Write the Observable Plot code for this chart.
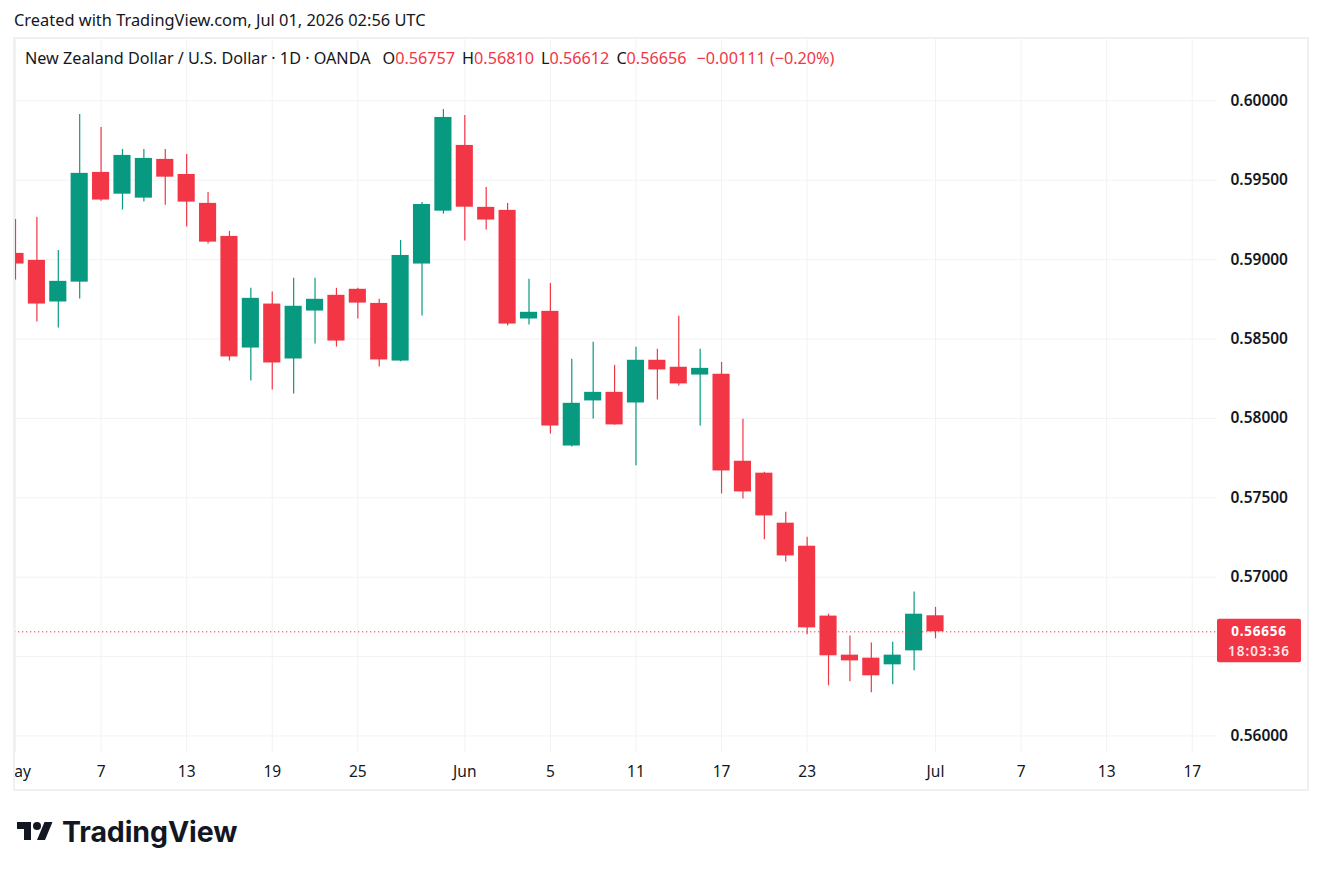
<!DOCTYPE html>
<html>
<head>
<meta charset="utf-8">
<script src="https://cdn.jsdelivr.net/npm/d3@7"></script>
<script src="https://cdn.jsdelivr.net/npm/@observablehq/plot@0.6"></script>
<style>
  html, body { margin: 0; padding: 0; background: #ffffff; }
  body { font-family: "Noto Sans", "Open Sans", sans-serif; color: #131722; }
  #page { position: relative; width: 1322px; height: 874px; overflow: hidden; }
  #created { position: absolute; left: 14px; top: 8px; font-size: 16.4px; white-space: nowrap; }
  #pane { position: absolute; left: 14px; top: 38px; width: 1294px; height: 752px; overflow: hidden; }
  #frame { position: absolute; left: 13px; top: 37px; width: 1296px; height: 754px; box-sizing: border-box;
           border: 2px solid #f0f0f0; pointer-events: none; }
  #legend { position: absolute; left: 25px; top: 47px; font-size: 16.2px; white-space: nowrap; }
  #legend .k { margin-left: 7px; }
  #legend .v { color: #f23645; }
  #brand { position: absolute; left: 17px; top: 814px; display: flex; align-items: center; }
  #brand .word { font-family: "Inter", "Noto Sans", sans-serif; font-weight: 700; font-size: 28.5px;
                 letter-spacing: -0.1px; margin-left: 9px; color: #131722; }
</style>
</head>
<body>
<div id="page">
  <div id="created">Created with TradingView.com, Jul 01, 2026 02:56 UTC</div>
  <div id="pane"></div>
  <div id="frame"></div>
  <div id="legend"></div>
  <div id="brand">
    <svg width="36" height="28" viewBox="0 0 36 28">
      <path d="M14 22H7V11H0V4h14v18z" fill="#131722"/>
      <circle cx="20" cy="8" r="4" fill="#131722"/>
      <path d="M28 22h-8l7.5-18h8L28 22z" fill="#131722"/>
    </svg>
    <span class="word">TradingView</span>
  </div>
</div>
<script>
// NZD/USD daily candles (OANDA), one entry per trading day
const dates = [
  "2026-05-01","2026-05-04","2026-05-05","2026-05-06","2026-05-07","2026-05-08",
  "2026-05-11","2026-05-12","2026-05-13","2026-05-14","2026-05-15",
  "2026-05-18","2026-05-19","2026-05-20","2026-05-21","2026-05-22",
  "2026-05-25","2026-05-26","2026-05-27","2026-05-28","2026-05-29",
  "2026-06-01","2026-06-02","2026-06-03","2026-06-04","2026-06-05",
  "2026-06-08","2026-06-09","2026-06-10","2026-06-11","2026-06-12",
  "2026-06-15","2026-06-16","2026-06-17","2026-06-18","2026-06-19",
  "2026-06-22","2026-06-23","2026-06-24","2026-06-25","2026-06-26",
  "2026-06-29","2026-06-30","2026-07-01"
];
const open = [
  0.59039, 0.58995, 0.58733, 0.58858, 0.59549, 0.59412, 0.59387, 0.59631, 0.59536, 0.59354, 0.59146,
  0.58443, 0.58720, 0.58374, 0.58676, 0.58775, 0.58813, 0.58724, 0.58361, 0.58972, 0.59305,
  0.59719, 0.59329, 0.59310, 0.58626, 0.58674, 0.57826, 0.58110, 0.58164, 0.58097, 0.58366,
  0.58322, 0.58273, 0.58278, 0.57730, 0.57655, 0.57340, 0.57195, 0.56755, 0.56509, 0.56490,
  0.56448, 0.56536, 0.56757
];
const high = [
  0.59253, 0.59266, 0.59058, 0.59914, 0.59832, 0.59694, 0.59694, 0.59694, 0.59662, 0.59423, 0.59178,
  0.58819, 0.58796, 0.58882, 0.58882, 0.58819, 0.58819, 0.58750, 0.59121, 0.59360, 0.59945,
  0.59908, 0.59454, 0.59354, 0.58876, 0.58850, 0.58372, 0.58479, 0.58334, 0.58448, 0.58435,
  0.58643, 0.58435, 0.58353, 0.57994, 0.57661, 0.57409, 0.57252, 0.56767, 0.56629, 0.56585,
  0.56591, 0.56906, 0.56810
];
const low = [
  0.58871, 0.58607, 0.58569, 0.58752, 0.59368, 0.59312, 0.59362, 0.59343, 0.59205, 0.59098, 0.58361,
  0.58235, 0.58179, 0.58154, 0.58468, 0.58449, 0.58626, 0.58324, 0.58356, 0.58645, 0.59286,
  0.59117, 0.59186, 0.58582, 0.58588, 0.57902, 0.57820, 0.57996, 0.57957, 0.57701, 0.58116,
  0.58204, 0.57952, 0.57524, 0.57493, 0.57235, 0.57096, 0.56637, 0.56316, 0.56341, 0.56272,
  0.56322, 0.56411, 0.56612
];
const close = [
  0.58972, 0.58720, 0.58863, 0.59543, 0.59375, 0.59656, 0.59637, 0.59519, 0.59362, 0.59110, 0.58387,
  0.58756, 0.58349, 0.58706, 0.58750, 0.58487, 0.58726, 0.58368, 0.59026, 0.59347, 0.59895,
  0.59330, 0.59249, 0.58594, 0.58668, 0.57952, 0.58095, 0.58164, 0.57959, 0.58366, 0.58305,
  0.58217, 0.58315, 0.57669, 0.57537, 0.57386, 0.57134, 0.56681, 0.56505, 0.56473, 0.56379,
  0.56509, 0.56767, 0.56656
];

// time-axis labels, placed on trading-day slots (slots past Jul 1 are future days)
const timeTickSlots  = [0, 4, 8, 12, 16, 21, 25, 29, 33, 37, 43, 47, 51, 55];
const timeTickLabels = ["May", "7", "13", "19", "25", "Jun", "5", "11", "17", "23", "Jul", "7", "13", "17"];
const priceTicks = [0.56, 0.565, 0.57, 0.575, 0.58, 0.585, 0.59, 0.595, 0.60];
const countdown = "18:03:36";

const UP = "#089981", DOWN = "#f23645", GRID = "#f2f2f2", INK = "#131722";
const FONT = "'Noto Sans', 'Open Sans', sans-serif";

const candles = dates.map((d, i) => ({
  i, date: d, open: open[i], high: high[i], low: low[i], close: close[i],
  color: close[i] >= open[i] ? UP : DOWN
}));
const last = candles[candles.length - 1];
const prev = candles[candles.length - 2];

const fmt5 = d3.format(".5f");
const labelOf = new Map(timeTickSlots.map((s, k) => [s, timeTickLabels[k]]));

const plot = Plot.plot({
  width: 1294,
  height: 752,
  marginLeft: 0,
  marginRight: 91,
  marginTop: 0,
  marginBottom: 38,
  style: { fontFamily: FONT, fontSize: "15px", color: INK, background: "transparent", overflow: "visible" },
  x: { type: "linear", domain: [-0.047, 56.18] },
  y: { type: "linear", domain: [0.55896, 0.603923] },
  marks: [
    Plot.ruleY(priceTicks, { stroke: GRID, strokeWidth: 1 }),
    Plot.ruleX(timeTickSlots, { stroke: GRID, strokeWidth: 1 }),
    Plot.ruleX(candles, { x: "i", y1: "low", y2: "high", stroke: "color", strokeWidth: 1.2 }),
    Plot.rect(candles, {
      x1: d => d.i - 0.4, x2: d => d.i + 0.4,
      y1: "open", y2: "close", fill: "color"
    }),
    Plot.ruleY([last.close], { stroke: DOWN, strokeWidth: 1, strokeDasharray: "1.3,2.7" }),
    Plot.axisY(priceTicks, {
      anchor: "right", label: null, tickSize: 0, tickPadding: 13, tickFormat: fmt5,
      fill: INK, fontSize: 15.5, fontWeight: 600, textAnchor: "start", letterSpacing: "0.9px"
    }),
    Plot.axisX(timeTickSlots, {
      anchor: "bottom", label: null, tickSize: 0, tickPadding: 13,
      tickFormat: d => labelOf.get(d), fill: INK, fontSize: 15.5
    })
  ]
});

document.getElementById("pane").appendChild(plot);

// last-price tag on the price scale
const svg = d3.select(plot);
const yPix = plot.scale("y").apply(last.close);
const xRight = plot.scale("x").apply(56.18);
const tag = svg.append("g").attr("transform", `translate(${xRight},${yPix})`);
tag.append("rect").attr("x", 0).attr("y", -12.5).attr("width", 84).attr("height", 43.5)
  .attr("rx", 2).attr("fill", last.color);
tag.append("text").attr("x", 42).attr("y", 4.5).attr("text-anchor", "middle")
  .attr("fill", "#ffffff").attr("font-size", 13.5).attr("font-weight", 700).attr("font-family", FONT)
  .attr("letter-spacing", "0.8px").text(fmt5(last.close));
tag.append("text").attr("x", 42).attr("y", 25).attr("text-anchor", "middle")
  .attr("fill", "#ffffff").attr("fill-opacity", 0.9).attr("font-size", 13.5).attr("font-weight", 600)
  .attr("font-family", FONT).attr("letter-spacing", "1px").text(countdown);

// header legend: symbol and OHLC of the latest bar
const chg = last.close - prev.close;
const pct = chg / prev.close * 100;
const signed = (v, s) => (v < 0 ? "\u2212" : "+") + s;
const legend = document.getElementById("legend");
legend.innerHTML =
  `<span>New Zealand Dollar / U.S. Dollar \u00b7 1D \u00b7 OANDA</span>` +
  `<span class="k" style="margin-left:12px">O</span><span class="v">${fmt5(last.open)}</span>` +
  `<span class="k">H</span><span class="v">${fmt5(last.high)}</span>` +
  `<span class="k">L</span><span class="v">${fmt5(last.low)}</span>` +
  `<span class="k">C</span><span class="v">${fmt5(last.close)}</span>` +
  `<span class="v" style="margin-left:10px">${signed(chg, fmt5(Math.abs(chg)))} ` +
  `(${signed(pct, Math.abs(pct).toFixed(2))}%)</span>`;
</script>
</body>
</html>
